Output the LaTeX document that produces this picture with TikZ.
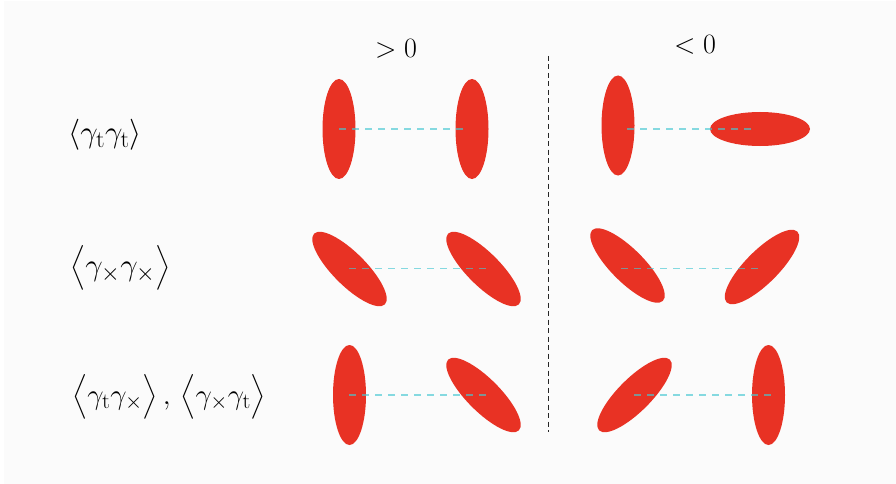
\documentclass[tikz,border=0pt]{standalone}
\usepackage{fix-cm}
\usepackage{amsmath}
\DeclareMathSizes{31}{31}{24}{18}
\DeclareMathSizes{29}{29}{22}{17}
\DeclareMathSizes{28}{28}{21}{16}
\definecolor{ered}{RGB}{232,50,36}
\definecolor{bg}{RGB}{251,251,251}
\definecolor{cy}{RGB}{70,200,210}
\tikzset{
  blob/.style={fill=ered, draw=none},
  link/.style={draw=cy, opacity=0.65, line width=1.1pt, dash pattern=on 7pt off 6pt},
  divider/.style={draw=black!85, line width=0.9pt, dash pattern=on 5pt off 3.5pt},
  rowlabel/.style={anchor=west, inner sep=0pt, font=\fontsize{29}{33}\selectfont},
  biglabel/.style={rowlabel, font=\fontsize{31}{35}\selectfont},
  head/.style={inner sep=0pt, font=\fontsize{28}{32}\selectfont},
}
\begin{document}
\begin{tikzpicture}[x=1pt,y=-1pt]
\useasboundingbox (0,0) rectangle (896,484);
\fill[bg] (4,1) rectangle (896,484);

% headers
\node[head] (hpos) at (396,49) {$>0$};
\node[head] (hneg) at (695,45) {$<0$};

% divider
\coordinate (dtop) at (548,56);
\coordinate (dbot) at (548,432);
\draw[divider] (dtop) -- (dbot);

% row labels
\node[biglabel] (l1) at (68,135) {$\langle\gamma_{\mathrm t}\gamma_{\mathrm t}\rangle$};
\node[biglabel] (l2) at (70,268) {$\big\langle\gamma_{\times}\gamma_{\times}\big\rangle$};
\node[rowlabel] (l3) at (72,397) {$\big\langle\gamma_{\mathrm t}\gamma_{\times}\big\rangle\,,\,\big\langle\gamma_{\times}\gamma_{\mathrm t}\big\rangle$};

% row 1
\fill[blob] (339,129) ellipse [x radius=16.5, y radius=50];
\fill[blob] (472,129) ellipse [x radius=16.5, y radius=50];
\fill[blob] (618,125.5) ellipse [x radius=16.5, y radius=50];
\fill[blob] (760,129) ellipse [x radius=50, y radius=17];
\coordinate (a1) at (339,129); \coordinate (b1) at (466,129);
\coordinate (c1) at (627,129); \coordinate (d1) at (755,129);
\draw[link] (a1) -- (b1);
\draw[link] (c1) -- (d1);

% row 2
\fill[blob, rotate around={-45:(349.5,269)}] (349.5,269) ellipse [x radius=50, y radius=16.5];
\fill[blob, rotate around={-45:(483.5,269)}] (483.5,269) ellipse [x radius=50, y radius=16.5];
\fill[blob, rotate around={-45:(627.5,265.5)}] (627.5,265.5) ellipse [x radius=50, y radius=16.5];
\fill[blob, rotate around={45:(762,267)}] (762,267) ellipse [x radius=50, y radius=16.5];
\coordinate (a2) at (349,268.5); \coordinate (b2) at (488,268.5);
\coordinate (c2) at (621,268.5); \coordinate (d2) at (761,268.5);
\draw[link] (a2) -- (b2);
\draw[link] (c2) -- (d2);

% row 3
\fill[blob] (349.5,395) ellipse [x radius=16.5, y radius=50];
\fill[blob, rotate around={-45:(483.5,395)}] (483.5,395) ellipse [x radius=50, y radius=16.5];
\fill[blob, rotate around={45:(634.5,395)}] (634.5,395) ellipse [x radius=50, y radius=16.5];
\fill[blob] (768.5,395) ellipse [x radius=16.5, y radius=50];
\coordinate (a3) at (349,395); \coordinate (b3) at (488,395);
\coordinate (c3) at (634,395); \coordinate (d3) at (773,395);
\draw[link] (a3) -- (b3);
\draw[link] (c3) -- (d3);
\end{tikzpicture}
\end{document}
